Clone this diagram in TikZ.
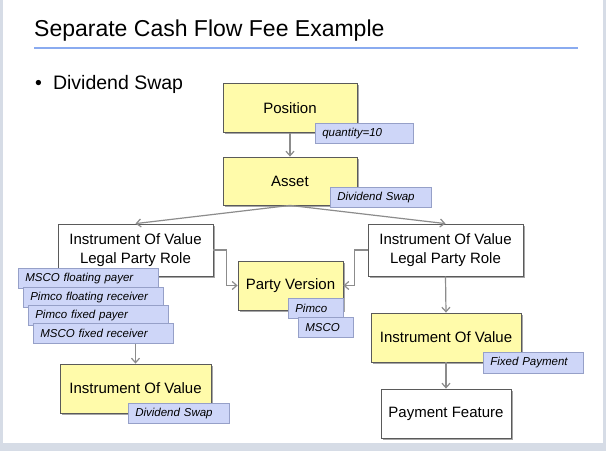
\documentclass[tikz,border=0pt]{standalone}
\usepackage{fontspec}
\setmainfont{Liberation Sans}
\usetikzlibrary{arrows.meta,shadows}

\definecolor{framegray}{RGB}{214,220,230}
\definecolor{rulerblue}{RGB}{138,171,240}
\definecolor{boxyellow}{RGB}{255,251,170}
\definecolor{tagfill}{RGB}{206,214,248}
\definecolor{tagline}{RGB}{150,160,200}
\definecolor{boxline}{RGB}{90,90,90}
\definecolor{arrgray}{RGB}{140,140,140}

\begin{document}
\begin{tikzpicture}[
  x=1pt, y=-1pt,
  box/.style={draw=boxline, line width=0.8pt, rectangle, fill=white,
              font=\fontsize{15}{19}\selectfont, align=center, inner sep=0pt,
              drop shadow={shadow xshift=1.5pt, shadow yshift=-1.5pt,
                           fill=black, opacity=0.35}},
  ybox/.style={box, fill=boxyellow},
  tag/.style={draw=tagline, line width=0.6pt, fill=tagfill, rectangle,
              anchor=north west, font=\fontsize{11.5}{13}\selectfont\itshape,
              align=left, inner xsep=7pt, inner ysep=0pt, minimum height=20pt},
  arr/.style={draw=arrgray, line width=1.2pt,
              -{Straight Barb[length=4.5pt, width=8pt]}}
]

% ===== frame =====
\fill[framegray] (0,0) rectangle (606,451);
\fill[white] (3,0) rectangle (603,443);
\useasboundingbox (0,0) rectangle (606,451);

% ===== title =====
\node[anchor=base west, inner sep=0pt, font=\fontsize{23}{27}\selectfont]
  (title) at (34,36) {Separate Cash Flow Fee Example};
\draw[rulerblue, line width=2pt] (34,48) -- (578,48);

% ===== bullet =====
\node[anchor=base west, inner sep=0pt, font=\fontsize{19.5}{23}\selectfont]
  (bullet) at (35,89) {\textbullet\hspace{11pt}Dividend Swap};

% ===== top chain =====
\node[ybox, minimum width=134pt, minimum height=49pt] (pos) at (290,108) {Position};
\node[tag, text width=84pt] (posq) at (315,123) {quantity=10};

\node[ybox, minimum width=134pt, minimum height=48pt] (asset) at (290,181) {Asset};
\node[tag, text width=87pt] (assetq) at (330,187) {Dividend Swap};

% ===== legal party roles =====
\node[box, minimum width=155pt, minimum height=52pt] (lpL) at (135.5,250)
  {Instrument Of Value\\Legal Party Role};
\node[box, minimum width=155pt, minimum height=52pt] (lpR) at (445.5,250)
  {Instrument Of Value\\Legal Party Role};

\node[tag, text width=126pt] (roleA) at (18,268) {MSCO floating payer};
\node[tag, text width=126pt] (roleB) at (23,287) {Pimco floating receiver};
\node[tag, text width=126pt] (roleC) at (28,305) {Pimco fixed payer};
\node[tag, text width=126pt] (roleD) at (33,323) {MSCO fixed receiver};

% ===== party version =====
\node[ybox, minimum width=105pt, minimum height=49pt] (pv) at (290.5,285.5) {Party Version};
\node[tag, text width=41pt] (pvA) at (288,298) {Pimco};
\node[tag, text width=41pt] (pvB) at (298,317) {MSCO};

% ===== instruments =====
\node[ybox, minimum width=151pt, minimum height=49pt] (iovL) at (135.5,388.5) {Instrument Of Value};
\node[tag, text width=87pt] (iovLq) at (128,403) {Dividend Swap};

\node[ybox, minimum width=150pt, minimum height=49pt] (iovR) at (446,337.5) {Instrument Of Value};
\node[tag, text width=86pt, minimum height=21pt] (iovRq) at (483,352) {Fixed Payment};

\node[box, minimum width=130pt, minimum height=49pt] (pf) at (446,413.5) {Payment Feature};

% ===== connectors =====
\draw[arr] (pos.south) -- (asset.north);
\draw[arr] (asset.south) -- (lpL.north);
\draw[arr] (asset.south) -- (lpR.north);
\draw[arr] (lpL.east) -- ++(13,0) |- (pv.west);
\draw[arr] (lpR.west) -- ++(-13,0) |- (pv.east);
\draw[arr] (roleD.south -| iovL.north) -- (iovL.north);
\draw[arr] (lpR.south) -- (iovR.north);
\draw[arr] (iovR.south) -- (pf.north);

\end{tikzpicture}
\end{document}
